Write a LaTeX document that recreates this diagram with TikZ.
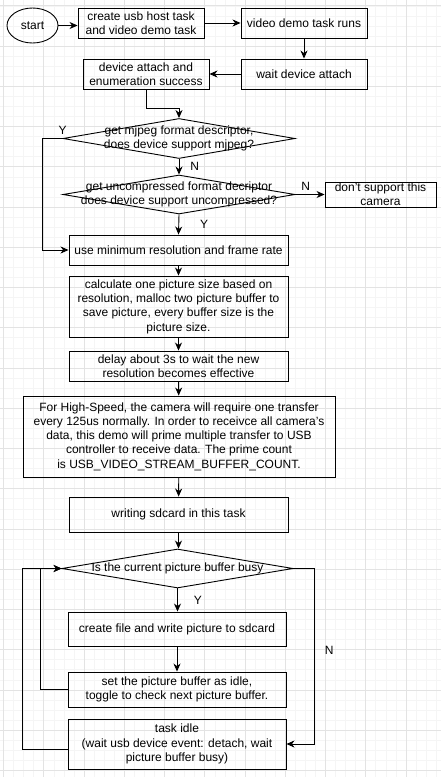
\documentclass[tikz,border=0pt]{standalone}
\usepackage{fontspec}
\setmainfont{Liberation Sans}
\usepackage{tikz}
\usetikzlibrary{positioning}
\usetikzlibrary{shapes.geometric}
\usetikzlibrary{arrows.meta}

\begin{document}
\begin{tikzpicture}
  [
    x=1pt, y=-1pt,
    font=\fontsize{12}{14.3}\selectfont,
    line width=0.9pt,
    >={Stealth[length=8pt, width=7pt, inset=2.5pt]},
    box/.style={draw=black, align=center, inner sep=0pt,
      minimum width=219pt, minimum height=30pt},
    decision/.style={diamond, draw=black, inner sep=0pt,
      minimum width=232pt, minimum height=39pt},
    dtext/.style={align=center, inner sep=0pt},
    lbl/.style={inner sep=1pt},
    gmajor/.style={draw=black!11, line width=0.6pt},
    gminor/.style={draw=black!4, line width=0.5pt}
  ]

  \useasboundingbox (0,0) rectangle (441,777);
  \fill [white] (0,0) rectangle (441,777);

  % background grid
  \foreach \i in {0,...,43}
    \draw [gminor] ({3.5+10.06*\i},0) -- ({3.5+10.06*\i},777);
  \foreach \i in {0,...,76}
    \draw [gminor] (0,{5.75+10.06*\i}) -- (441,{5.75+10.06*\i});
  \foreach \i in {0,...,10}
    \draw [gmajor] ({3.5+40.25*\i},0) -- ({3.5+40.25*\i},777);
  \foreach \i in {0,...,19}
    \draw [gmajor] (0,{5.75+40.25*\i}) -- (441,{5.75+40.25*\i});

  \node (start)  at (32.5,25.5) [ellipse, draw=black, inner sep=0pt,
                                 minimum width=51pt, minimum height=35pt] {start};
  \node (create) at (141,23)    [box, minimum width=126pt] {create usb host task\\and video demo task};
  \node (video)  at (304,23)    [box, minimum width=126pt] {video demo task runs};
  \node (wait)   at (304,74)    [box, minimum width=126pt] {wait device attach};
  \node (device) at (146,74)    [box, minimum width=126pt] {device attach and\\enumeration success};

  \node (d1)  at (179,138.5) [decision, minimum height=40pt] {};
  \node (d1t) at (d1)        [dtext] {get mjpeg format descriptor,\\does device support mjpeg?};
  \node (d2)  at (179,194.5) [decision] {};
  \node (d2t) at (d2)        [dtext] {get uncompressed format decriptor\\does device support uncompressed?};
  \node (nosup) at (380.5,194.5) [box, minimum width=111pt, minimum height=25pt] {don't support this\\camera};

  \node (usemin) at (178.5,250)   [box] {use minimum resolution and frame rate};
  \node (calc)   at (178.5,306.5) [box, minimum height=61pt] {calculate one picture size based on\\resolution, malloc two picture buffer to\\save picture, every buffer size is the\\picture size.};
  \node (delay)  at (178.5,366)   [box] {delay about 3s to wait the new\\resolution becomes effective};
  \node (prime)  at (179,436.5)   [box, minimum width=312pt, minimum height=81pt] {For High-Speed, the camera will require one transfer\\every 125us normally. In order to receivce all camera's\\data, this demo will prime multiple transfer to USB\\controller to receive data. The prime count\\is USB\_VIDEO\_STREAM\_BUFFER\_COUNT.};
  \node (write)  at (178.5,514.5) [box, minimum height=35pt] {writing sdcard in this task};

  \node (d3)  at (177.5,568.5) [decision, minimum width=231pt] {};
  \node (d3t) at (d3)          [dtext] {Is the current picture buffer busy};
  \node (cfile) at (177,629)   [box, minimum width=218pt, minimum height=34pt] {create file and write picture to sdcard};
  \node (set)   at (177,689.5) [box, minimum width=218pt, minimum height=35pt] {set the picture buffer as idle,\\toggle to check next picture buffer.};
  \node (idle)  at (177,744)   [box, minimum width=218pt, minimum height=50pt] {task idle\\(wait usb device event: detach, wait\\picture buffer busy)};

  \draw [->] (start.east) -- (start.east -| create.west);
  \draw [->] (create) -- (video);
  \draw [->] (video) -- (wait);
  \draw [->] (wait) -- (device);
  \draw [->] (device.south) -- ++(0,19) -| (d1.north);

  \draw [->] (d1.west) -- node [lbl, pos=0, above=3pt] {Y} ++(-20,0) |- (usemin.west);
  \draw [->] (d1.south) -- node [lbl, right=10pt] {N} (d2.north);
  \draw [->] (d2.east) -- node [lbl, pos=0.35, above=3pt] {N} (nosup.west);
  \draw [->] (d2.south) -- node [lbl, right=20pt] {Y} (usemin.north);

  \draw [->] (usemin) -- (calc);
  \draw [->] (calc) -- (delay);
  \draw [->] (delay) -- (prime);
  \draw [->] (prime) -- (write);
  \draw [->] (write.south) -- (write.south |- d3.north);

  \draw [->] (d3.south) -- node [lbl, right=15pt] {Y} (d3.south |- cfile.north);
  \draw [->] (cfile) -- (set);
  \draw [->] (set.west) -- ++(-27,0) |- (d3.west);
  \draw [->] ([yshift=-5pt]idle.west) -- ++(-45,0) |- (d3.west);
  \draw [->] (d3.east) -- ++(21,0) |- node [lbl, pos=0.233, right=9pt] {N} (idle.east);
\end{tikzpicture}
\end{document}
